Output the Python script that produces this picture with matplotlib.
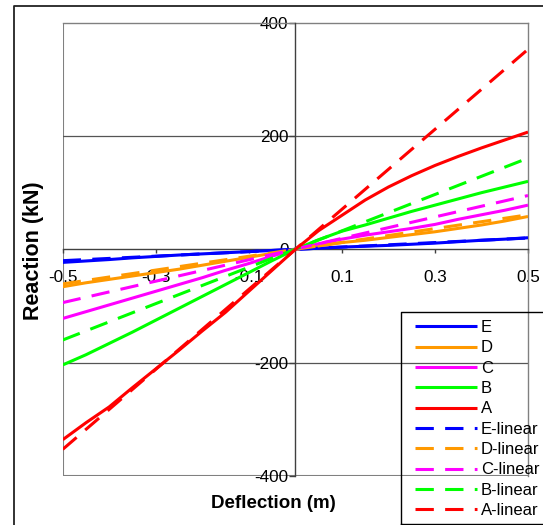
import numpy as np
import matplotlib
matplotlib.use("Agg")
import matplotlib.pyplot as plt
from matplotlib.lines import Line2D

plt.rcParams['font.family'] = ['Liberation Sans', 'DejaVu Sans']
plt.rcParams['axes.unicode_minus'] = False

# Measured curves (deflection in m, reaction in kN)
defl = [-0.5, -0.45, -0.4, -0.35, -0.3, -0.25, -0.2, -0.15, -0.1, -0.05, 0,
        0.05, 0.1, 0.15, 0.2, 0.25, 0.3, 0.35, 0.4, 0.45, 0.5]
react_E = [-23, -20.5, -18, -15, -12.5, -10, -8, -6, -4, -2, 0,
           2, 4, 5.5, 7, 9, 11, 13.5, 16, 18, 20.5]
react_D = [-66, -59, -53, -47, -41, -35, -28, -21, -14, -7, 0,
           6, 12, 16, 21, 26, 31, 37, 43, 50, 58]
react_C = [-122, -110, -98, -86, -74, -62, -50, -37, -25, -12, 0,
           10, 18, 25, 31, 37, 44, 53, 61, 69, 78]
react_B = [-204, -186, -166, -146, -125, -104, -83, -62, -41, -20, 0,
           17, 32, 43, 55, 67, 78, 89, 100, 110, 120]
react_A = [-336, -306, -278, -244, -211, -178, -144, -111, -74, -37, 0,
           33, 60, 87, 110, 130, 148, 164, 179, 193, 207]

# Linear (initial stiffness) lines, end values
lin_x = [-0.5, 0.5]
lin_E = [-20, 20]
lin_D = [-61, 61]
lin_C = [-94, 95]
lin_B = [-160, 161]
lin_A = [-353, 353]

names = ['E', 'D', 'C', 'B', 'A']
colors = ['#0000FF', '#FF9900', '#FF00FF', '#00FF00', '#FF0000']
curves = [react_E, react_D, react_C, react_B, react_A]
linears = [lin_E, lin_D, lin_C, lin_B, lin_A]

W, H = 543, 525
fig = plt.figure(figsize=(W / 100, H / 100), dpi=100)
ax = fig.add_axes([62.7 / W, 1 - 476 / H, (528 - 62.7) / W, (476 - 22.7) / H])

handles = []
for name, col, ys in zip(names, colors, curves):
    h, = ax.plot(defl, ys, color=col, lw=2.2, zorder=4, label=name,
                 solid_capstyle='butt')
    handles.append(h)
for name, col, ys in zip(names, colors, linears):
    h, = ax.plot(lin_x, ys, color=col, lw=2.2, zorder=4, dashes=(6, 3.7),
                 label=name + '-linear', dash_capstyle='butt')
    handles.append(h)

ax.set_xlim(-0.5, 0.5)
ax.set_ylim(-400, 400)

# axes crossing at origin, grey plot box
gray = '#808080'
ax.spines['left'].set_position(('data', 0))
ax.spines['bottom'].set_position(('data', 0))
for s in ['left', 'bottom']:
    ax.spines[s].set_color('#404040')
    ax.spines[s].set_linewidth(1.0)
    ax.spines[s].set_zorder(3)
for s in ['top', 'right']:
    ax.spines[s].set_color(gray)
    ax.spines[s].set_linewidth(1.0)
ax.axvline(-0.5, color=gray, lw=1.5, zorder=1)
ax.axhline(-400, color=gray, lw=1.5, zorder=1)
for yv in [-200, 200]:
    ax.axhline(yv, color='#555555', lw=0.9, zorder=1)

xt = [-0.5, -0.3, -0.1, 0.1, 0.3, 0.5]
ax.set_xticks(xt)
ax.set_xticklabels(['%g' % v for v in xt])
yt = [-400, -200, 0, 200, 400]
ax.set_yticks(yt)
ax.set_yticklabels([str(v) for v in yt])
ax.tick_params(axis='x', direction='out', length=3, width=1, color='#404040',
               pad=12, labelsize=12.3)
ax.tick_params(axis='y', direction='out', length=4, width=1, color='#404040',
               pad=1, labelsize=12.3)

fig.text(34 / W, 1 - 251 / H, 'Reaction (kN)', rotation=90, fontsize=15.5,
         fontweight='bold', ha='center', va='center')
fig.text(273 / W, 1 - 504 / H, 'Deflection (m)', fontsize=13.5,
         fontweight='bold', ha='center', va='center')

# legend without frame, frame drawn separately
fig.legend(handles=handles, loc='upper left',
           bbox_to_anchor=(415 / W, 1 - 320 / H), frameon=False,
           borderpad=0, borderaxespad=0, handlelength=3.72,
           handletextpad=0.22, labelspacing=0.32, fontsize=12)
lx0, ly0, ly1 = 400.5 / W, 1 - 312 / H, 1 - 523.5 / H
fig.add_artist(Line2D([lx0, lx0, 1.05, 1.05, lx0], [ly1, ly0, ly0, ly1, ly1],
                      color='black', lw=1.0))

# outer chart border
bx, by = 13.5 / W, 1 - 6 / H
fig.add_artist(Line2D([bx, bx, 1.05], [-0.05, by, by], color='#222222', lw=1.3))

fig.savefig('out.png', dpi=100)
